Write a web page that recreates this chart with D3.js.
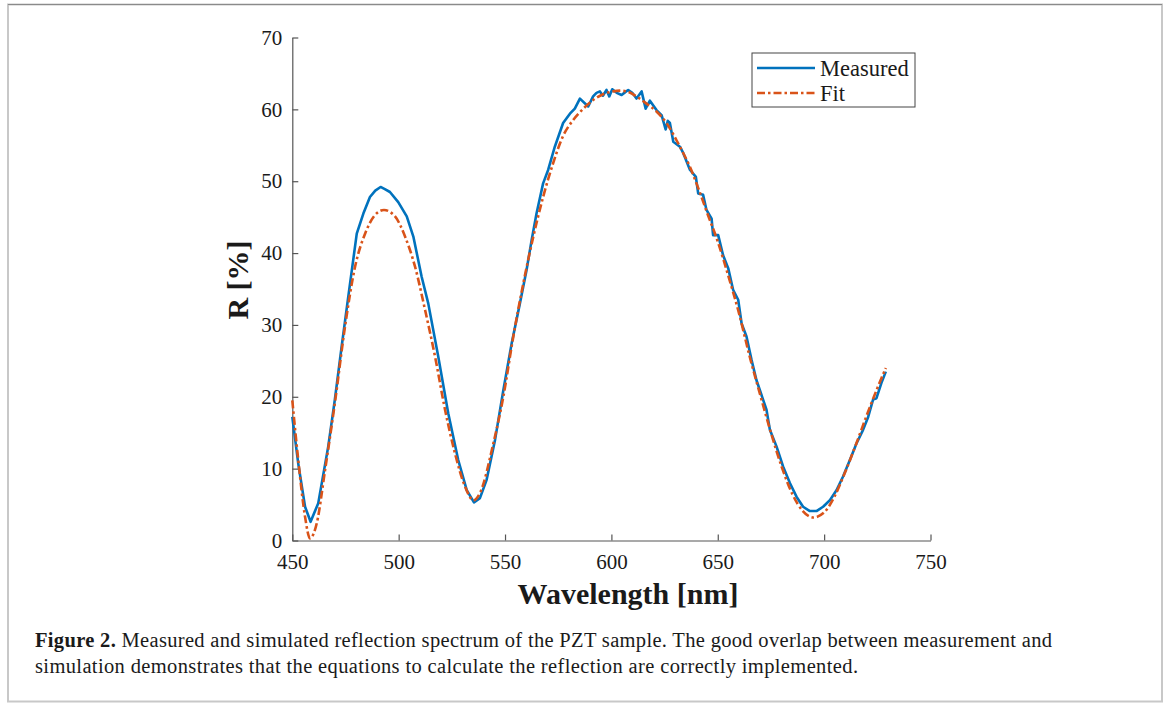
<!DOCTYPE html>
<html><head><meta charset="utf-8">
<script src="https://cdn.jsdelivr.net/npm/d3@7"></script>
<style>body{margin:0;background:#fff}svg{display:block}</style>
</head><body>
<svg id="chart" width="1168" height="704"></svg>
<script>
// ---- data ----
const measuredWl = [450,452.8,456,458.6,462.2,466.9,470,473.2,476.3,480.3,483.4,486.5,489,491.5,493.5,495.9,499.8,503.8,506.9,510.8,513.9,518.6,523.3,528,532,535.4,538.2,541.3,545.3,549.2,553.1,557,560.1,562.5,564.8,567.9,570.3,573.4,577.3,580.5,582.8,585.2,589.1,591.4,593,594.6,596,597.7,599,600.4,602.5,604.8,606.5,607.9,609.8,611.8,614.2,616.1,618.1,621.2,623.6,625.5,626.5,627.5,629.1,632.2,633.8,636.9,639.7,640.8,643.1,644.7,647.1,647.8,650.2,652.5,654.9,657.2,659.6,661.2,663.5,665.9,668.2,671.3,672.9,674.5,677.6,680.7,683.9,687,690.1,693.3,696.4,699.5,702.7,705.8,708.9,712.1,715.2,718.3,720.7,723,724.6,726.9,729];
const measuredR  = [17.2,10.7,4.7,2.6,5.2,13.1,19.6,27,33.9,42.7,45.5,47.8,48.7,49.2,48.9,48.5,47.1,45.1,42.3,36.7,33,25.6,17.7,11.2,7,5.3,5.9,8.4,14,20.9,27.4,33,37.6,41.8,45.5,49.7,51.6,54.8,58.1,59.4,60.1,61.5,60.4,61.8,62.3,62.5,61.9,62.7,61.8,62.8,62.3,62,62.4,62.7,62.3,61.5,62.5,60.1,61.2,59.9,59.2,57.2,58.4,58.1,55.5,54.8,53.9,51.6,50.6,48.3,48.1,46,44.8,42.5,42.5,39.7,37.9,34.9,33.5,30.2,28.4,25.1,22.3,19.6,18.2,15.4,13.1,10.3,8,6.1,4.7,4.1,4.1,4.7,5.6,7,8.9,11.2,13.5,15.4,17.2,19.6,19.8,21.9,23.5];
const fitWl = [450,452.8,456,458.3,461.5,465.4,470,474.8,479.5,484.2,488.9,493.1,498.3,503,507.7,512.4,517.1,521.8,526.5,531.2,535.2,538.2,544.5,549.2,553.9,558.6,563.3,567.9,572.6,577.3,582,586.8,591.4,596.1,600.8,604,607.1,611.8,616.5,621.2,625.9,630.6,632.2,636.9,641,645,650,655,660,665,670,675,680,685,690,694.8,700,705,710,715,720,725,729];
const fitR  = [19.5,11.2,3.3,0.3,2.4,9.8,19.1,29.8,38.1,42.7,45.3,46,45.1,42.3,38.1,32.1,25.6,18.2,12.1,7.5,5.6,6.6,13.5,20,28.4,35.8,42.3,47.8,52.5,56.3,58.5,60.1,61.3,62.1,62.5,62.6,62.5,61.8,60.8,59.7,58.1,55.7,54.8,52,48.9,45.6,41.6,36.8,31.6,25.6,20.2,15,10.3,6.5,4.1,3.2,3.9,6.2,9.6,13.4,17.4,21.2,24];
const xTicks = [450,500,550,600,650,700,750];
const yTicks = [0,10,20,30,40,50,60,70];
const seriesNames = ["Measured","Fit"];
const seriesColors = ["#0072BD","#D95319"];

// ---- layout ----
const svg = d3.select("#chart");
const x = d3.scaleLinear().domain([450,750]).range([292.3,930.5]);
const y = d3.scaleLinear().domain([0,70]).range([540.5,37.5]);
const serif = "'Liberation Serif','Times New Roman',serif";

// outer frame
svg.append("rect").attr("x",8).attr("y",4.5).attr("width",1154).attr("height",697)
  .attr("fill","none").attr("stroke","#c8c8c8").attr("stroke-width",2);
svg.append("line").attr("x1",8).attr("x2",1162).attr("y1",4.5).attr("y2",4.5).attr("stroke","#8a8a8a").attr("stroke-width",1);

// axes
const xAxis = svg.append("g").attr("transform","translate(0,540.5)")
  .call(d3.axisBottom(x).tickValues(xTicks).tickSize(-6).tickPadding(14).tickSizeOuter(0));
const yAxis = svg.append("g").attr("transform","translate(292.3,0)")
  .call(d3.axisLeft(y).tickValues(yTicks).tickSize(-6).tickPadding(10).tickSizeOuter(0));
[xAxis,yAxis].forEach(g=>{
  g.select(".domain").attr("stroke","#555").attr("stroke-width",1.2);
  g.selectAll(".tick line").attr("stroke","#555").attr("stroke-width",1.2);
  g.selectAll(".tick text").attr("font-family",serif).attr("font-size",21).attr("fill","#1a1a1a");
});
xAxis.selectAll(".tick text").attr("dy","0.71em");

// titles
svg.append("text").attr("x",628).attr("y",604).attr("text-anchor","middle")
  .attr("font-family",serif).attr("font-weight","bold").attr("font-size",30).attr("fill","#1a1a1a")
  .text("Wavelength [nm]");
svg.append("text").attr("transform","translate(248,280) rotate(-90)").attr("text-anchor","middle")
  .attr("font-family",serif).attr("font-weight","bold").attr("font-size",30).attr("fill","#1a1a1a")
  .text("R [%]");

// lines
const line = d3.line().x(d=>x(d[0])).y(d=>y(d[1])).curve(d3.curveMonotoneX);
const measured = measuredWl.map((w,i)=>[w,measuredR[i]]);
const fit = fitWl.map((w,i)=>[w,fitR[i]]);
svg.append("path").datum(measured).attr("d",d3.line().x(d=>x(d[0])).y(d=>y(d[1])).curve(d3.curveLinear))
  .attr("fill","none").attr("stroke",seriesColors[0]).attr("stroke-width",2.6).attr("stroke-linejoin","round");
svg.append("path").datum(fit).attr("d",line)
  .attr("fill","none").attr("stroke",seriesColors[1]).attr("stroke-width",2.6)
  .attr("stroke-dasharray","8,3,2.5,3");

// legend
const lg = svg.append("g");
lg.append("rect").attr("x",752).attr("y",53).attr("width",163).attr("height",54)
  .attr("fill","#fff").attr("stroke","#444").attr("stroke-width",1);
seriesNames.forEach((n,i)=>{
  const yy = 68 + i*25;
  lg.append("line").attr("x1",757).attr("x2",815).attr("y1",yy).attr("y2",yy)
    .attr("stroke",seriesColors[i]).attr("stroke-width",2.6)
    .attr("stroke-dasharray", i===1 ? "8,3,2.5,3" : null);
  lg.append("text").attr("x",820).attr("y",yy).attr("dy","0.35em")
    .attr("font-family",serif).attr("font-size",22.5).attr("fill","#1a1a1a").text(n);
});

// caption
const cap1 = svg.append("text").attr("x",35).attr("y",647).attr("font-family",serif).attr("font-size",20.5)
  .attr("fill","#1a1a1a").attr("textLength",1017).attr("lengthAdjust","spacing");
cap1.append("tspan").attr("font-weight","bold").text("Figure 2.");
cap1.append("tspan").text(" Measured and simulated reflection spectrum of the PZT sample. The good overlap between measurement and");
svg.append("text").attr("x",35).attr("y",673).attr("font-family",serif).attr("font-size",20.5)
  .attr("fill","#1a1a1a").attr("textLength",823).attr("lengthAdjust","spacing")
  .text("simulation demonstrates that the equations to calculate the reflection are correctly implemented.");
</script>
</body></html>
